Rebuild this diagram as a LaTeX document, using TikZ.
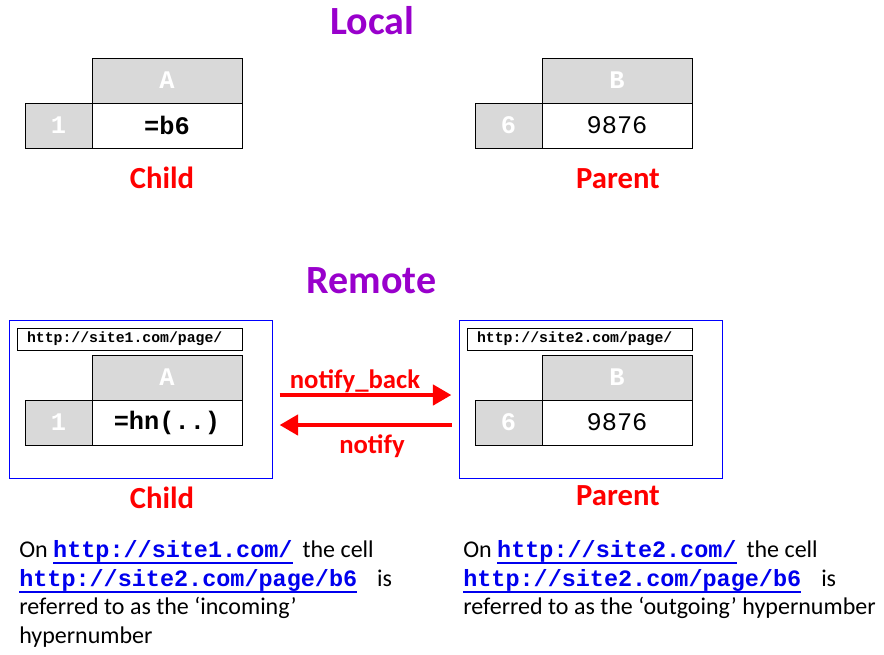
\documentclass[tikz,border=0pt]{standalone}
\usepackage{fontspec}
\setmainfont{Carlito}
\newfontfamily\monofont{Liberation Mono}
\usetikzlibrary{arrows.meta}
\definecolor{ttlpurple}{HTML}{9900CC}
\definecolor{lblred}{HTML}{FF0000}
\definecolor{hdrgray}{HTML}{D9D9D9}
\definecolor{boxblue}{HTML}{0000FF}
\definecolor{lnkblue}{HTML}{0000EE}
\newcommand\hlink[1]{{\color{lnkblue}\sbox0{\monofont\bfseries\fontsize{17.6}{21}\selectfont #1}\rlap{\rule[-5.6pt]{\wd0}{1.5pt}}\usebox0}}
\tikzset{
  ttl/.style={text=ttlpurple, font=\bfseries\fontsize{30}{36}\selectfont, anchor=base, inner sep=0pt},
  role/.style={text=lblred, font=\bfseries\fontsize{23}{28}\selectfont, anchor=base, inner sep=0pt},
  msg/.style={text=lblred, font=\bfseries\fontsize{20}{24}\selectfont, anchor=base, inner sep=0pt},
  cellbase/.style={draw=black, line width=0.75pt, inner sep=0pt, outer sep=0pt, minimum height=33.75pt},
  colhdr/.style={cellbase, fill=hdrgray, text=white, minimum width=112.5pt, font=\monofont\bfseries\fontsize{19}{22}\selectfont},
  rowhdr/.style={cellbase, fill=hdrgray, text=white, minimum width=50.25pt, font=\monofont\bfseries\fontsize{19}{22}\selectfont},
  valcell/.style={cellbase, fill=white, text=black, minimum width=112.5pt, font=\monofont\bfseries\fontsize{19}{22}\selectfont},
  valplain/.style={valcell, font=\monofont\fontsize{19}{22}\selectfont},
  urlbox/.style={draw=black, line width=0.75pt, inner xsep=7.5pt, inner ysep=0pt, minimum height=16.5pt, text width=153.75pt, align=left, font=\monofont\bfseries\fontsize{11.1}{13}\selectfont},
  site/.style={draw=boxblue, line width=0.75pt, minimum width=197.25pt, minimum height=118.5pt, inner sep=0pt},
  arr/.style={draw=lblred, line width=3.5pt, -{Triangle[length=14pt,width=15pt]}},
  note/.style={anchor=base west, inner sep=0pt, font=\fontsize{18}{22}\selectfont}
}
\begin{document}
\begin{tikzpicture}[x=0.75pt,y=-0.75pt]
\fill[white] (0,0) rectangle (884,654);
\useasboundingbox (0,0) rectangle (884,654);

% Local
\node[ttl] (localt) at (372.5,34) {Local};
\node[colhdr] (lA) at (167,80.5) {A};
\node[valcell] (lA1) at (167,125.5) {=b6};
\node[rowhdr] (l1) at (58.5,125.5) {1};
\node[colhdr] (lB) at (617,80.5) {B};
\node[valplain] (lB6) at (617,125.5) {9876};
\node[rowhdr] (l6) at (508.5,125.5) {6};
\node[role] (lchild) at (162,188) {Child};
\node[role] (lparent) at (618,188) {Parent};

% Remote
\node[ttl] (remotet) at (371.5,293) {Remote};
\node[site] (lbox) at (140.5,399) {};
\node[site] (rbox) at (590.5,399) {};
\node[urlbox] (lurl) at (129.5,339) {http://site1.com/page/};
\node[urlbox] (rurl) at (579.5,339) {http://site2.com/page/};
\node[colhdr] (rA) at (167,377.5) {A};
\node[valcell] (rA1) at (167,422.5) {=hn(..)};
\node[rowhdr] (r1) at (58.5,422.5) {1};
\node[colhdr] (rB) at (617,377.5) {B};
\node[valplain] (rB6) at (617,422.5) {9876};
\node[rowhdr] (r6) at (508.5,422.5) {6};

\draw[arr] ([xshift=5.25pt,yshift=3pt]lbox.east) -- ([xshift=-5.25pt,yshift=3pt]rbox.west);
\draw[arr] ([xshift=-5.25pt,yshift=-19.5pt]rbox.west) -- ([xshift=5.25pt,yshift=-19.5pt]lbox.east);
\node[msg] (nb) at (355,388) {notify\_back};
\node[msg] (nf) at (372,453) {notify};

\node[role] (rchild) at (162,508) {Child};
\node[role] (rparent) at (618,505) {Parent};

% Notes
\node[note] (la) at (19,557) {On \hlink{http://site1.com/}\hspace{7.5pt}the cell};
\node[note] (lb) at (19,586) {\hlink{http://site2.com/page/b6}\hspace{15pt}is};
\node[note] (lc) at (19,614) {referred to as the ‘incoming’};
\node[note] (ld) at (19,643) {hypernumber};
\node[note] (ra) at (463,557) {On \hlink{http://site2.com/}\hspace{7.5pt}the cell};
\node[note] (rb) at (463,586) {\hlink{http://site2.com/page/b6}\hspace{15pt}is};
\node[note] (rc) at (463,614) {referred to as the ‘outgoing’ hypernumber};
\end{tikzpicture}
\end{document}
